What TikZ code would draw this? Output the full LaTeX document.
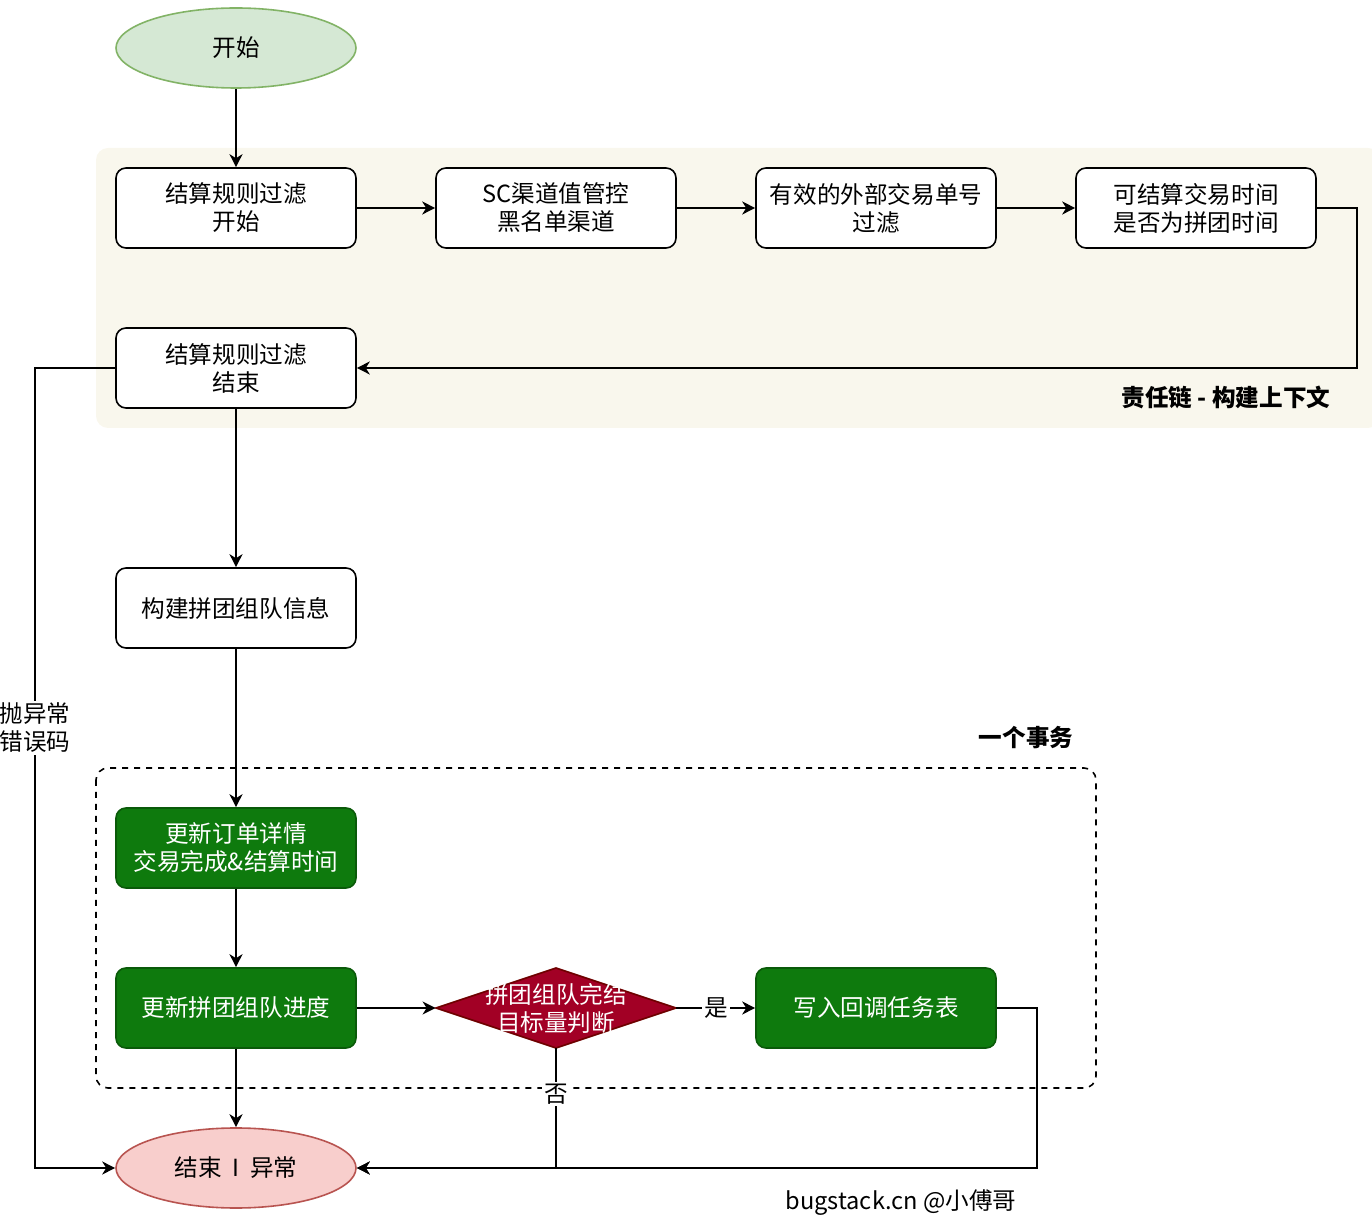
\documentclass[tikz,border=0pt]{standalone}
\usepackage{fontspec}
\setmainfont{Noto Sans CJK SC}
\usetikzlibrary{arrows.meta,shapes.geometric}

\definecolor{chainbg}{HTML}{F9F7ED}
\definecolor{okfill}{HTML}{0E7A0D}
\definecolor{okline}{HTML}{0A5A09}
\definecolor{startfill}{HTML}{D5E8D4}
\definecolor{startline}{HTML}{82B366}
\definecolor{endfill}{HTML}{F8CECC}
\definecolor{endline}{HTML}{B85450}
\definecolor{judgefill}{HTML}{A20025}
\definecolor{judgeline}{HTML}{6F0000}

\begin{document}
\begin{tikzpicture}[x=0.5pt,y=-0.5pt,>={Stealth[length=6.5pt,width=6.5pt,inset=2pt]},
    every node/.style={font=\fontsize{11.8}{14}\selectfont, align=center},
    stepbox/.style={draw, line width=0.8pt, rounded corners=5pt, fill=white,
                    minimum width=120pt, minimum height=40pt, inner sep=0pt},
    txbox/.style={stepbox, draw=okline, fill=okfill, text=white},
    endpoint/.style={ellipse, draw, line width=0.8pt, minimum width=120pt,
                     minimum height=40pt, inner sep=0pt},
    judgebox/.style={text=white, minimum width=120pt, minimum height=40pt, inner sep=0pt},
    flow/.style={->, line width=0.8pt},
    tag/.style={fill=white, inner sep=1pt}]
    \useasboundingbox (0,0) rectangle (1372,1224);

    % background groups
    \fill [chainbg, rounded corners=6pt] (96,148) rectangle (1380,428);
    \draw [dashed, line width=0.8pt, rounded corners=6pt] (96,768) rectangle (1096,1088);
    \node [font=\fontsize{11.8}{14}\selectfont\bfseries] (chaintitle) at (1226,397) {责任链 - 构建上下文};
    \node [font=\fontsize{11.8}{14}\selectfont\bfseries] (txtitle) at (1026,738) {一个事务};

    % nodes
    \node [endpoint, fill=startfill, draw=startline] (start) at (236,48) {开始};
    \node [stepbox] (chainA) at (236,208) {结算规则过滤\\开始};
    \node [stepbox] (chainB) at (556,208) {SC渠道值管控\\黑名单渠道};
    \node [stepbox] (chainC) at (876,208) {有效的外部交易单号\\过滤};
    \node [stepbox] (chainD) at (1196,208) {可结算交易时间\\是否为拼团时间};
    \node [stepbox] (chainEnd) at (236,368) {结算规则过滤\\结束};
    \node [stepbox] (team) at (236,608) {构建拼团组队信息};
    \node [txbox] (order) at (236,848) {更新订单详情\\交易完成\&结算时间};
    \node [txbox] (progress) at (236,1008) {更新拼团组队进度};
    % diamond drawn by hand, text on top
    \filldraw [fill=judgefill, draw=judgeline, line width=0.8pt]
        (436,1008) -- (556,968) -- (676,1008) -- (556,1048) -- cycle;
    \node [judgebox] (judge) at (556,1008) {拼团组队完结\\目标量判断};
    \node [txbox] (callback) at (876,1008) {写入回调任务表};
    \node [endpoint, fill=endfill, draw=endline] (finish) at (236,1168) {结束 \ I \ 异常};
    \node (sign) at (901,1203) {bugstack.cn @小傅哥};

    % connectors
    \draw [flow] (start) -- (chainA);
    \draw [flow] (chainA) -- (chainB);
    \draw [flow] (chainB) -- (chainC);
    \draw [flow] (chainC) -- (chainD);
    \draw [flow] (chainD.east) -- ++(40,0) |- (chainEnd.east);
    \draw [flow] (chainEnd) -- (team);
    \draw [flow] (team) -- (order);
    \draw [flow] (order) -- (progress);
    \draw [flow] (progress) -- (judge);
    \draw [flow] (judge) -- node [tag] {是} (callback);
    \draw [flow] (progress) -- (finish);
    \draw [flow] (judge.south) |- node [tag, pos=0.19] {否} (finish.east);
    \draw [flow] (callback.east) -- ++(40,0) |- (finish.east);
    \draw [flow] (chainEnd.west) -- ++(-80,0) |- node [tag, pos=0.225] {抛异常\\错误码} (finish.west);
\end{tikzpicture}
\end{document}
